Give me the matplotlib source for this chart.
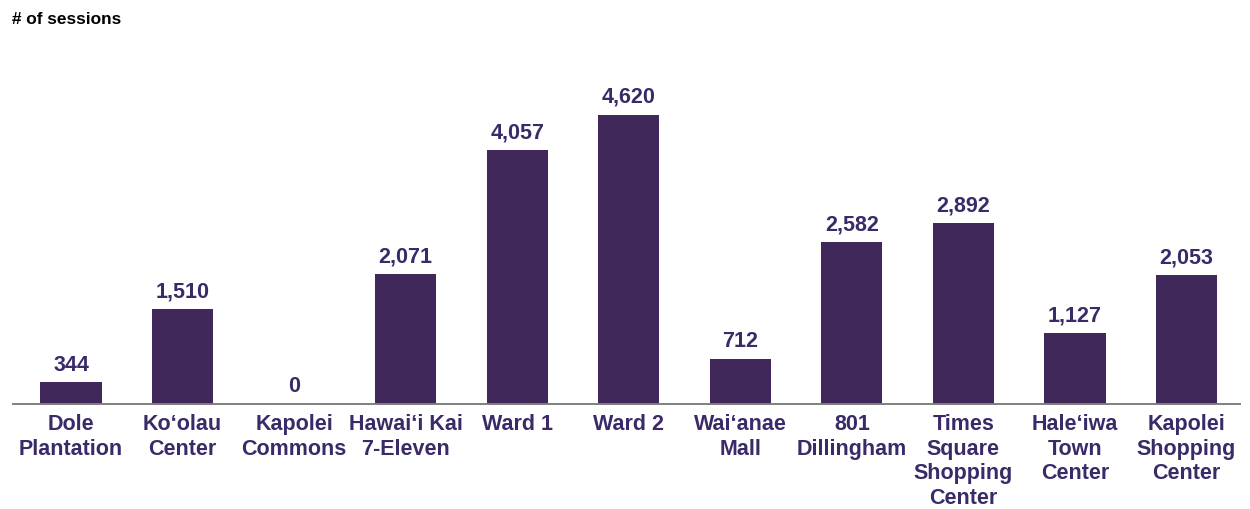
import matplotlib
matplotlib.use("Agg")
import matplotlib.pyplot as plt

categories = ["Dole\nPlantation", "Ko\u2018olau\nCenter", "Kapolei\nCommons", "Hawai\u2018i Kai\n7-Eleven",
              "Ward 1", "Ward 2", "Wai\u2018anae\nMall", "801\nDillingham",
              "Times\nSquare\nShopping\nCenter", "Hale\u2018iwa\nTown\nCenter", "Kapolei\nShopping\nCenter"]
sessions = [344, 1510, 0, 2071, 4057, 4620, 712, 2582, 2892, 1127, 2053]

bar_color = "#40285A"
text_color = "#3A2A68"

plt.rcParams['font.family'] = ['Liberation Sans', 'DejaVu Sans']

fig = plt.figure(figsize=(12.5, 5.09), dpi=100)
ax = fig.add_axes([0.0104, 0.2063, 0.9816, 0.6764])
x = list(range(len(categories)))
ax.bar([xi + 0.02 for xi in x], sessions, width=0.55, color=bar_color, zorder=2)
ax.set_xlim(-0.5, len(categories) - 0.5)
ax.set_ylim(0, 5500)

for xi, v in zip(x, sessions):
    ax.annotate(f"{v:,}", (xi + 0.02, v), xytext=(0, 5), textcoords="offset points",
                ha="center", va="bottom", fontsize=15.5, fontweight="bold", color=text_color)

ax.set_xticks([xi + 0.02 for xi in x])
ax.set_xticklabels(categories, fontsize=15.5, fontweight="bold", color=text_color, linespacing=1.22, va="top")
ax.tick_params(axis="x", length=0, pad=7.5)
ax.set_yticks([])
for s in ["top", "right", "left"]:
    ax.spines[s].set_visible(False)
ax.spines["bottom"].set_color("#7f7f7f")
ax.spines["bottom"].set_linewidth(1.4)

fig.text(0.0096, 0.977, "# of sessions", fontsize=12.4, fontweight="bold", color="black", ha="left", va="top")

fig.savefig("out.png", dpi=100)
